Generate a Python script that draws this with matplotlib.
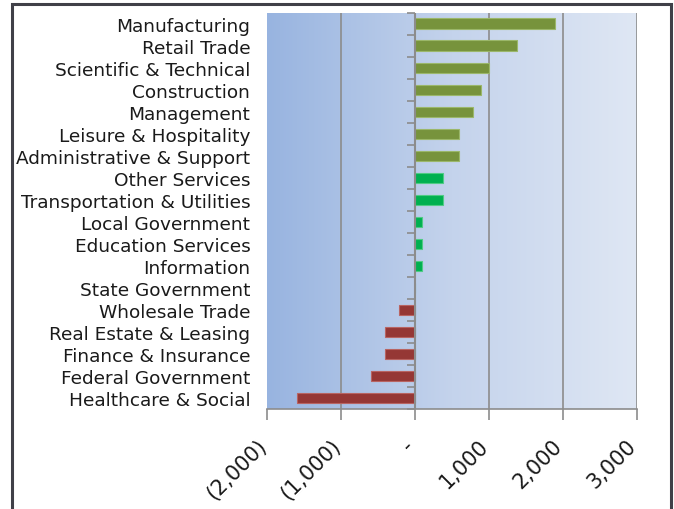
import numpy as np
import matplotlib
matplotlib.use("Agg")
import matplotlib.pyplot as plt
import matplotlib.transforms as mtransforms
from matplotlib.colors import LinearSegmentedColormap
from matplotlib.patches import Rectangle

# ----------- DATA -----------
sectors = [
    "Manufacturing", "Retail Trade", "Scientific & Technical", "Construction",
    "Management", "Leisure & Hospitality", "Administrative & Support",
    "Other Services", "Transportation & Utilities", "Local Government",
    "Education Services", "Information", "State Government", "Wholesale Trade",
    "Real Estate & Leasing", "Finance & Insurance", "Federal Government",
    "Healthcare & Social",
]
change = [1890, 1385, 995, 890, 790, 595, 595, 385, 385, 100, 100, 100,
          0, -210, -400, -400, -600, -1600]
group = ["high"] * 7 + ["low"] * 5 + ["zero"] + ["neg"] * 5

x_ticks = [-2000, -1000, 0, 1000, 2000, 3000]
x_labels = ["(2,000)", "(1,000)", "-", "1,000", "2,000", "3,000"]

colors = {"high": "#77933C", "low": "#00B050", "zero": "#00B050", "neg": "#953735"}
edges = {"high": "#9BB76A", "low": "#4FCB84", "zero": "#4FCB84", "neg": "#B86462"}

# ----------- PLOT -----------
fig = plt.figure(figsize=(6.74, 5.10), dpi=100)
ax = fig.add_axes([267 / 674, 1 - 410 / 510, 370 / 674, 396.5 / 510])

n = len(sectors)
y = np.arange(n)

# gradient background
cmap = LinearSegmentedColormap.from_list("bg", ["#98B4E0", "#C4D3EC", "#DFE7F4"])
grad = np.linspace(0, 1, 256).reshape(1, -1)
ax.imshow(grad, aspect="auto", cmap=cmap, extent=[x_ticks[0], x_ticks[-1], n - 0.5, -0.5],
          zorder=0)

ax.barh(y, change, height=0.46,
        color=[colors[g] for g in group],
        edgecolor=[edges[g] for g in group], linewidth=0.8, zorder=3)

ax.set_xlim(x_ticks[0], x_ticks[-1])
ax.set_ylim(n - 0.5, -0.5)

for xv in x_ticks[1:]:
    if xv != 0:
        ax.axvline(xv, color="#8C8C8C", linewidth=1.2, zorder=1)
ax.axvline(0, color="#8C8C8C", linewidth=1.5, zorder=4)

ax.set_yticks(y)
ax.set_yticklabels(sectors, fontsize=13.3, color="#1A1A1A")
ax.tick_params(axis="y", length=0, pad=12)

ax.set_xticks(x_ticks)
ax.set_xticklabels(x_labels, rotation=45, ha="right", va="top",
                   rotation_mode="anchor", fontsize=15, color="#1A1A1A")
ax.tick_params(axis="x", length=8, width=1.2, color="#8C8C8C", pad=11)
shift = mtransforms.ScaledTranslation(-0.11, 0, fig.dpi_scale_trans)
for lbl in ax.get_xticklabels():
    lbl.set_transform(lbl.get_transform() + shift)

for s in ["top", "right", "left"]:
    ax.spines[s].set_visible(False)
ax.spines["bottom"].set_color("#8C8C8C")
ax.spines["bottom"].set_linewidth(1.2)

# category separator ticks on the zero axis
zero_frac = (0 - x_ticks[0]) / (x_ticks[-1] - x_ticks[0])
sec = ax.secondary_yaxis(zero_frac)
sec.set_yticks(np.arange(n + 1) - 0.5)
sec.set_yticklabels([])
sec.tick_params(length=6, width=1.2, color="#8C8C8C", direction="out")
sec.spines["left"].set_visible(False)

# outer frame
fig.patches.append(Rectangle((12 / 674, -0.02), 659 / 674, 1.02 - 5 / 510,
                             transform=fig.transFigure, fill=False,
                             edgecolor="#404048", linewidth=2.2))

fig.savefig("out.png", dpi=100)
